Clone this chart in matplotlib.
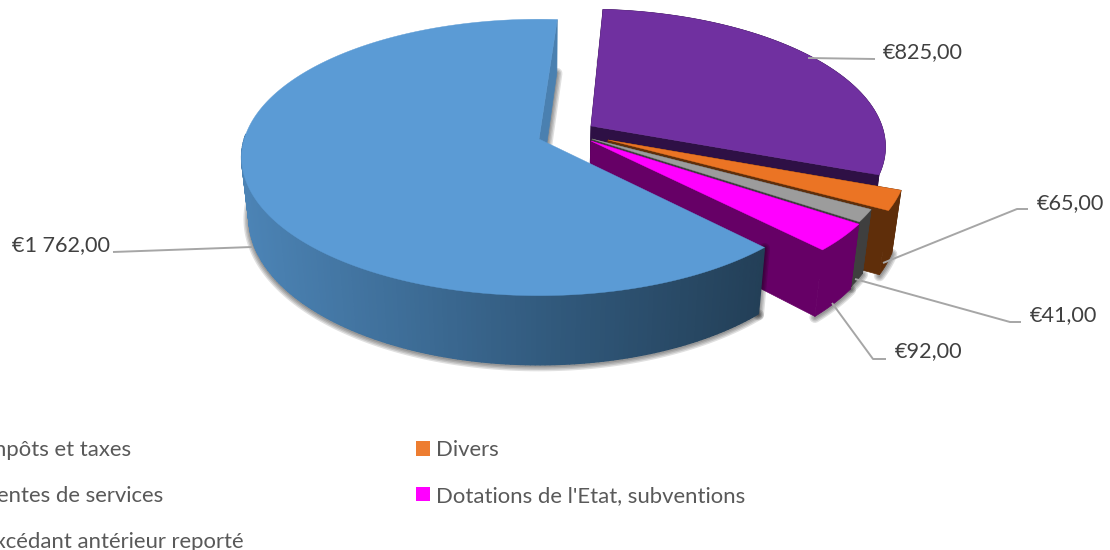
import numpy as np
import matplotlib
matplotlib.use('Agg')
import matplotlib.pyplot as plt
from matplotlib.collections import PolyCollection
from matplotlib.colors import to_rgb
from matplotlib.patches import Patch, Polygon

# slices, clockwise from the top
names = ['Ventes de services', 'Divers', 'Excédant antérieur reporté',
         "Dotations de l'Etat, subventions", 'Impôts et taxes']
values = [825, 65, 41, 92, 1762]
labels = ['€825,00', '€65,00', '€41,00', '€92,00', '€1 762,00']
legend_order = [4, 0, 2, 1, 3]

top_colors = ['#7030a0', '#eb7424', '#9c9c9c', '#ff00ff', '#5b9bd5']
wall_colors = ['#2e1045', '#5f2e0a', '#3f3f3f', '#660066', '#4a80b0']
legend_colors = ['#7030a0', '#ed7d31', '#a5a5a5', '#ff00ff', '#5b9bd5']

# where each slice's tip sits on screen (pixels)
tips = [(591, 126), (608, 140), (592, 139), (591, 141), (539, 139)]
start_angle = 86.0

# leader lines and label anchors, pixels
leaders = [[(808, 58), (875, 59)],
           [(883, 263), (1017, 209), (1028, 209)],
           [(855, 279), (1010, 322), (1021, 322)],
           [(832, 303), (873, 359), (886, 359)],
           [(252, 247), (113, 252)]]
label_pos = [(883, 52), (1037, 203), (1030, 315), (895, 351), (12, 245)]

# camera
CX, CY = 540, 140
RX, RY = 295, 136
PERSP = 0.1335
DEPTH = 60
SHRINK = 0.025


def project(x, y, z=0.0):
    w = 1 + PERSP * y
    sx = CX + RX * x / (w + SHRINK * z)
    sy = CY + (-RY * y + DEPTH * z) / w
    return np.column_stack([sx, sy])


def unproject(sx, sy):
    u = sy - CY
    y = -u / (RY + PERSP * u)
    x = (sx - CX) * (1 + PERSP * y) / RX
    return x, y


def arc(tip, a1, a2, z=0.0, n=120):
    t = np.radians(np.linspace(a1, a2, n))
    return project(tip[0] + np.cos(t), tip[1] + np.sin(t), z)


def edge_wall(tip, a, color):
    t = np.radians(a)
    xs = np.array([tip[0], tip[0] + np.cos(t)])
    ys = np.array([tip[1], tip[1] + np.sin(t)])
    top = project(xs, ys, 0.0)
    bot = project(xs, ys, 1.0)
    ax.add_patch(Polygon(np.vstack([top, bot[::-1]]), fc=color, ec=color, lw=0.5))


def shadow(pts):
    for lw in [2, 4, 6, 8]:
        ax.plot(pts[:, 0], pts[:, 1] + 1, color='black', lw=lw, alpha=0.12,
                solid_capstyle='round', zorder=1)


def outer_wall(tip, a1, a2, color):
    top = arc(tip, a1, a2, 0.0)
    bot = arc(tip, a1, a2, 1.0)
    ax.add_patch(Polygon(np.vstack([top, bot[::-1]]), fc=color, ec=color, lw=0.5))


fig = plt.figure(figsize=(11.1, 5.5), dpi=100)
ax = fig.add_axes([0, 0, 1, 1])
ax.set_xlim(0, 1110)
ax.set_ylim(550, 0)
ax.axis('off')
plt.rcParams['font.family'] = ['Lato', 'DejaVu Sans']

# angles from the values
total = sum(values)
edges = start_angle - 360 * np.cumsum([0] + values) / total
world = [unproject(*p) for p in tips]

# back wall of the big slice, behind everything
blue_tip = world[4]
blue_a1, blue_a2 = edges[4], edges[5]
t = np.radians(start_angle)
back = project(np.array([blue_tip[0] + np.cos(t), blue_tip[0]]),
               np.array([blue_tip[1] + np.sin(t), blue_tip[1]]), 1.0)
shadow(back)
edge_wall(blue_tip, start_angle, wall_colors[4])

# small slices, back to front
for i in range(4):
    a1, a2 = edges[i], edges[i + 1]
    tip = world[i]
    shadow(arc(tip, a1, a2, 1.0))
    edge_wall(tip, a2, wall_colors[i])
    edge_wall(tip, a1, wall_colors[i])
    outer_wall(tip, a1, a2, wall_colors[i])
    pts = np.vstack([project(*tip), arc(tip, a1, a2)])
    ax.add_patch(Polygon(pts, fc=top_colors[i], ec=top_colors[i], lw=0.3))

# big slice: shaded wall, then top
front_start = blue_a1 + 360
shadow(arc(blue_tip, front_start, 180, 1.0))
shadow(np.vstack([arc(blue_tip, front_start, front_start, 0.0, 2)[:1],
                  arc(blue_tip, front_start, front_start, 1.0, 2)[:1]]))
steps = np.linspace(front_start, 178, 160)
grad_left = np.array(to_rgb('#4c84b6'))
grad_mid = np.array(to_rgb('#31597c'))
grad_right = np.array(to_rgb('#233f57'))
quads, cols = [], []
for a, b in zip(steps[:-1], steps[1:]):
    q = np.vstack([arc(blue_tip, a, b, 0.0, 3), arc(blue_tip, b, a, 1.0, 3)])
    f = (q[:, 0].mean() - 242) / (762 - 242)
    if f < 0.6:
        c = grad_left + (grad_mid - grad_left) * f / 0.6
    else:
        c = grad_mid + (grad_right - grad_mid) * (f - 0.6) / 0.4
    quads.append(q)
    cols.append(c)
ax.add_collection(PolyCollection(quads, facecolors=cols, edgecolors=cols,
                                 linewidths=1.0, zorder=1))
pts = np.vstack([project(*blue_tip), arc(blue_tip, blue_a1, blue_a2, 0.0, 400)])
ax.add_patch(Polygon(pts, fc=top_colors[4], ec=top_colors[4], lw=0.3))

# leaders and value labels
for line, lab, pos in zip(leaders, labels, label_pos):
    xs, ys = zip(*line)
    ax.plot(xs, ys, color='#a6a6a6', lw=1.4, solid_capstyle='butt', zorder=3)
    ax.text(pos[0], pos[1], lab, fontsize=15.6, color='#404040', ha='left', va='center')

# legend runs off the left edge like the original
handles = [Patch(facecolor=legend_colors[i], label=names[i]) for i in legend_order]
ax.legend(handles=handles, ncol=2, frameon=False, fontsize=15.9, labelcolor='#595959',
          loc='upper left', bbox_to_anchor=(-0.034, 0.2), borderaxespad=0, borderpad=0,
          handlelength=0.64, handleheight=0.64, handletextpad=0.27,
          labelspacing=1.17, columnspacing=7.8)

plt.savefig('out.png', dpi=100)
